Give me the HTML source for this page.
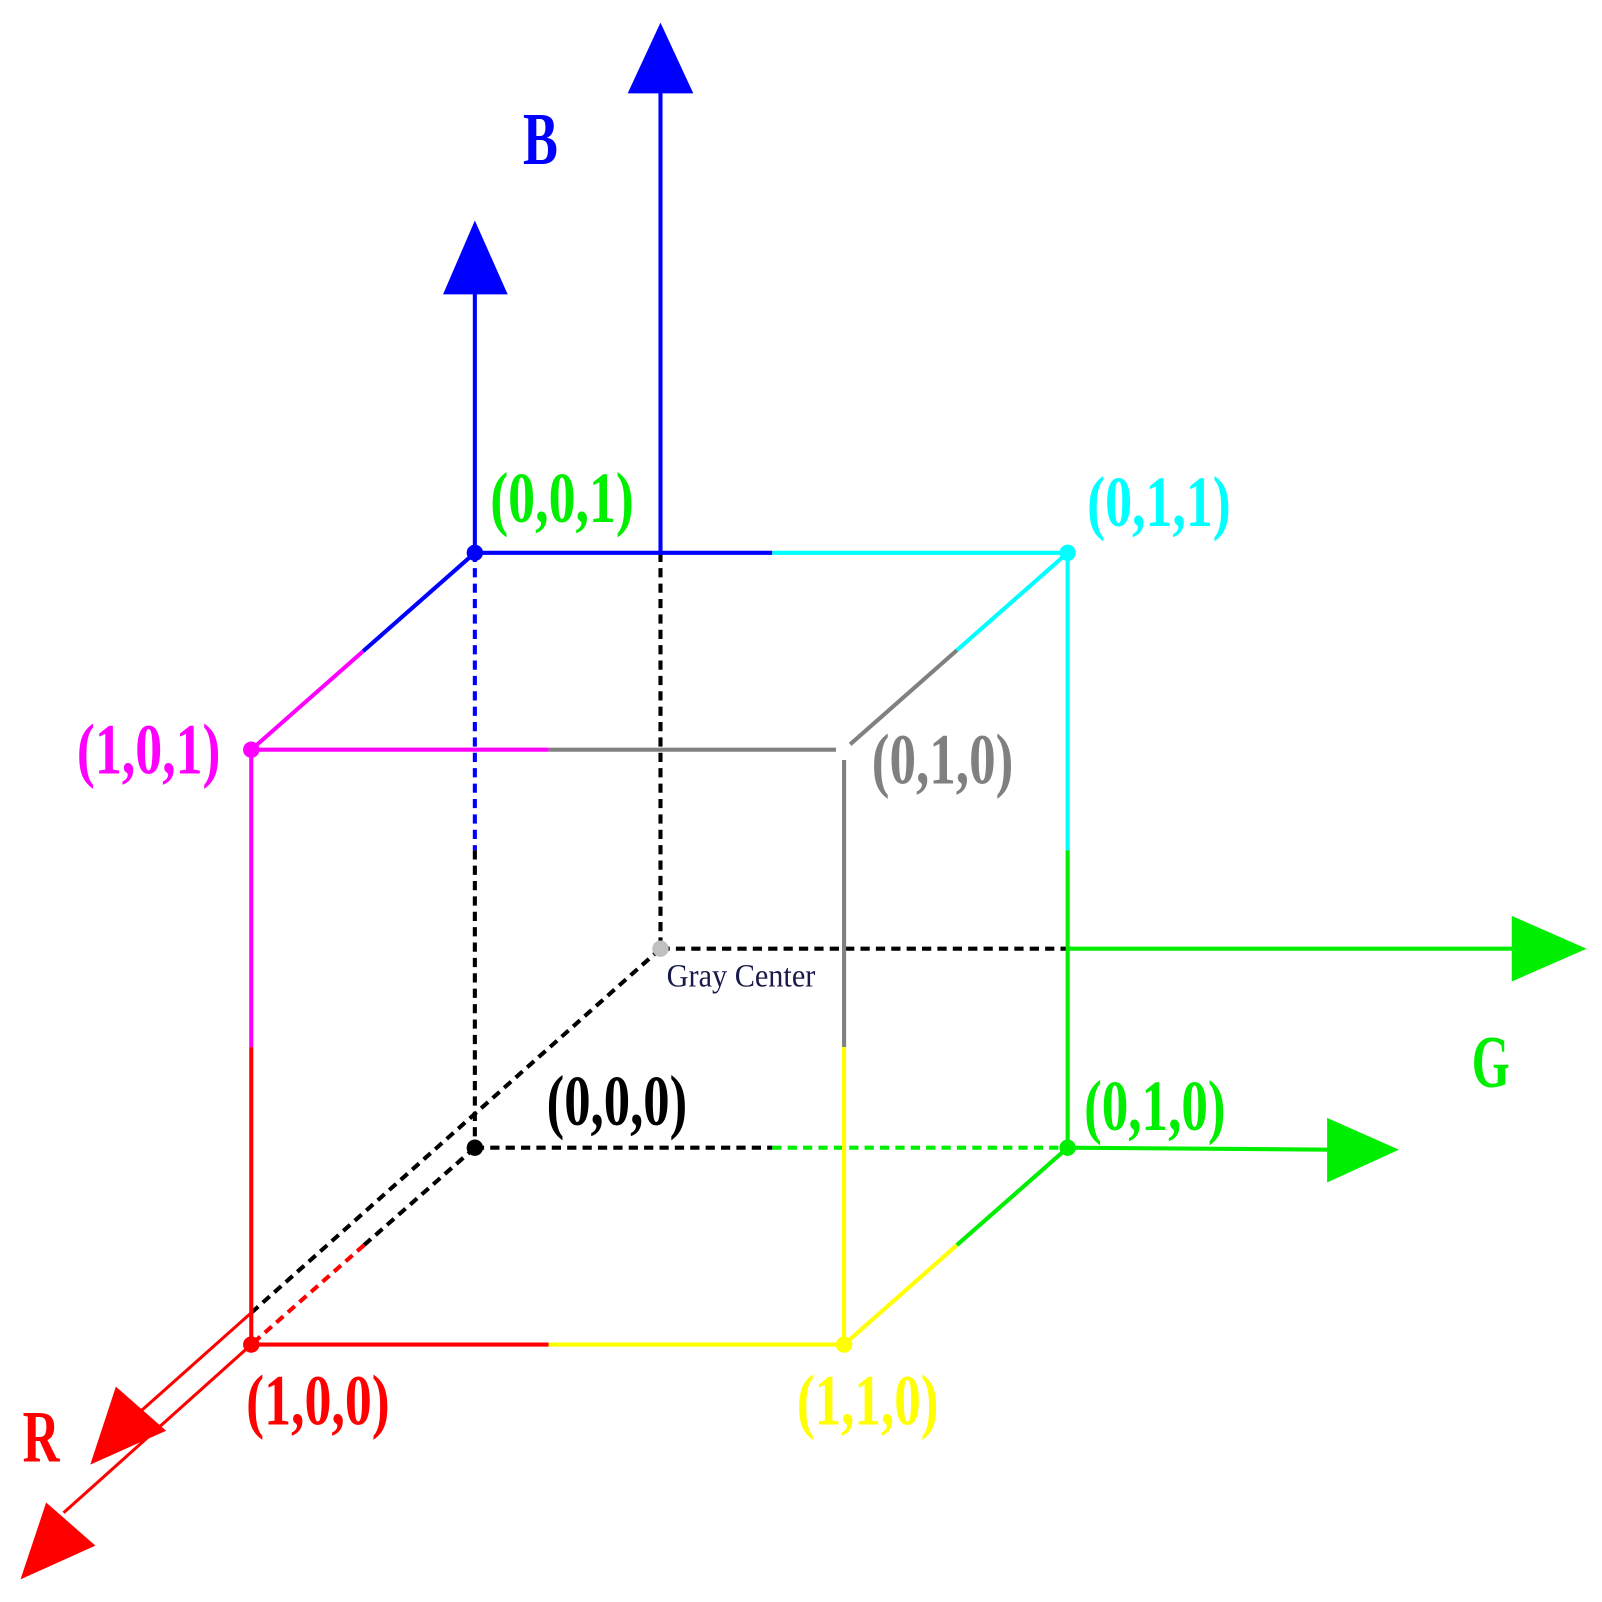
<!DOCTYPE html>
<html><head><meta charset="utf-8"><style>html,body{margin:0;padding:0;background:#fff}svg{display:block}</style></head>
<body>
<svg width="1602" height="1602" viewBox="0 0 1562 1562" xmlns="http://www.w3.org/2000/svg">
<g stroke-width="4" fill="none">
<line x1="463" y1="539" x2="463" y2="829" stroke="#0000ff" stroke-dasharray="9,6"/>
<line x1="463" y1="829" x2="463" y2="1119" stroke="#000" stroke-dasharray="9,6"/>
<line x1="463" y1="1119" x2="753" y2="1119" stroke="#000" stroke-dasharray="9,6"/>
<line x1="753" y1="1119" x2="1041" y2="1119" stroke="#00ee00" stroke-dasharray="9,6"/>
<line x1="463" y1="1119" x2="355" y2="1214" stroke="#000" stroke-dasharray="9,6"/>
<line x1="355" y1="1214" x2="245" y2="1311" stroke="#ff0000" stroke-dasharray="9,6"/>
<line x1="644" y1="539" x2="644" y2="925" stroke="#000" stroke-dasharray="9,6"/>
<line x1="644" y1="925" x2="1041" y2="925" stroke="#000" stroke-dasharray="9,6"/>
<line x1="644" y1="925" x2="245" y2="1280" stroke="#000" stroke-dasharray="9,6"/>
<line x1="463" y1="539" x2="753" y2="539" stroke="#0000ff"/>
<line x1="753" y1="539" x2="1041" y2="539" stroke="#00ffff"/>
<line x1="463" y1="539" x2="354" y2="635" stroke="#0000ff"/>
<line x1="354" y1="635" x2="245" y2="731" stroke="#ff00ff"/>
<line x1="1041" y1="539" x2="933" y2="634" stroke="#00ffff"/>
<line x1="933" y1="634" x2="823" y2="731" stroke="#808080"/>
<line x1="245" y1="731" x2="535" y2="731" stroke="#ff00ff"/>
<line x1="535" y1="731" x2="823" y2="731" stroke="#808080"/>
<line x1="245" y1="731" x2="245" y2="1021" stroke="#ff00ff"/>
<line x1="245" y1="1021" x2="245" y2="1311" stroke="#ff0000"/>
<line x1="823" y1="741" x2="823" y2="1021" stroke="#808080"/>
<line x1="823" y1="1021" x2="823" y2="1311" stroke="#ffff00"/>
<line x1="1041" y1="539" x2="1041" y2="829" stroke="#00ffff"/>
<line x1="1041" y1="829" x2="1041" y2="1119" stroke="#00ee00"/>
<line x1="245" y1="1311" x2="535" y2="1311" stroke="#ff0000"/>
<line x1="535" y1="1311" x2="823" y2="1311" stroke="#ffff00"/>
<line x1="823" y1="1311" x2="933" y2="1214" stroke="#ffff00"/>
<line x1="933" y1="1214" x2="1041" y2="1119" stroke="#00ee00"/>
<line x1="644" y1="539" x2="644" y2="88" stroke="#0000ff"/>
<line x1="463" y1="539" x2="463" y2="283" stroke="#0000ff"/>
<line x1="1041" y1="925" x2="1478" y2="925" stroke="#00ee00"/>
<line x1="1041" y1="1119" x2="1298" y2="1121" stroke="#00ee00"/>
<line x1="245" y1="1280" x2="135" y2="1378" stroke="#ff0000" stroke-width="3"/>
<line x1="245" y1="1311" x2="62" y2="1475" stroke="#ff0000" stroke-width="3"/>
</g>
<g stroke="none">
<polygon points="644,22 612,91 676,91" fill="#0000ff"/>
<polygon points="463,215 432,287 495,287" fill="#0000ff"/>
<polygon points="1547,925 1474,893 1474,957" fill="#00ee00"/>
<polygon points="1364,1121 1294,1090 1294,1153" fill="#00ee00"/>
<polygon points="88,1428 113,1352 162,1395" fill="#ff0000"/>
<polygon points="20,1540 45,1465 93,1507" fill="#ff0000"/>
<circle cx="463" cy="539" r="8" fill="#0000ff"/>
<circle cx="1041" cy="539" r="8" fill="#00ffff"/>
<circle cx="245" cy="731" r="8" fill="#ff00ff"/>
<circle cx="823" cy="731" r="8" fill="#ffffff"/>
<circle cx="644" cy="925" r="8" fill="#c0c0c0"/>
<circle cx="463" cy="1119" r="8" fill="#000"/>
<circle cx="1041" cy="1119" r="8" fill="#00ee00"/>
<circle cx="245" cy="1311" r="8" fill="#ff0000"/>
<circle cx="823" cy="1311" r="8" fill="#ffff00"/>
</g>
<g font-family="Liberation Serif, serif" font-size="70" font-weight="600">
<text x="510" y="160" fill="#0000ff" font-size="72" font-weight="bold" textLength="34" lengthAdjust="spacingAndGlyphs">B</text>
<text x="478" y="509" fill="#00ee00" font-weight="bold" textLength="140" lengthAdjust="spacingAndGlyphs">(0,0,1)</text>
<text x="1060" y="513" fill="#00ffff" textLength="140" lengthAdjust="spacingAndGlyphs">(0,1,1)</text>
<text x="75" y="754" fill="#ff00ff" font-weight="bold" textLength="140" lengthAdjust="spacingAndGlyphs">(1,0,1)</text>
<text x="850" y="764" fill="#808080" textLength="138" lengthAdjust="spacingAndGlyphs">(0,1,0)</text>
<text x="650" y="962" fill="#1a1a4a" font-size="32" font-weight="normal" textLength="145" lengthAdjust="spacingAndGlyphs">Gray Center</text>
<text x="533" y="1097" fill="#000" font-weight="bold" textLength="137" lengthAdjust="spacingAndGlyphs">(0,0,0)</text>
<text x="1057" y="1102" fill="#00ee00" textLength="138" lengthAdjust="spacingAndGlyphs">(0,1,0)</text>
<text x="240" y="1389" fill="#ff0000" textLength="140" lengthAdjust="spacingAndGlyphs">(1,0,0)</text>
<text x="777" y="1389" fill="#ffff00" textLength="138" lengthAdjust="spacingAndGlyphs">(1,1,0)</text>
<text x="22" y="1425" fill="#ff0000" font-size="72" textLength="36" lengthAdjust="spacingAndGlyphs">R</text>
<text x="1435" y="1060" fill="#00ee00" font-size="72" textLength="37" lengthAdjust="spacingAndGlyphs">G</text>
</g>
</svg>
</body></html>
